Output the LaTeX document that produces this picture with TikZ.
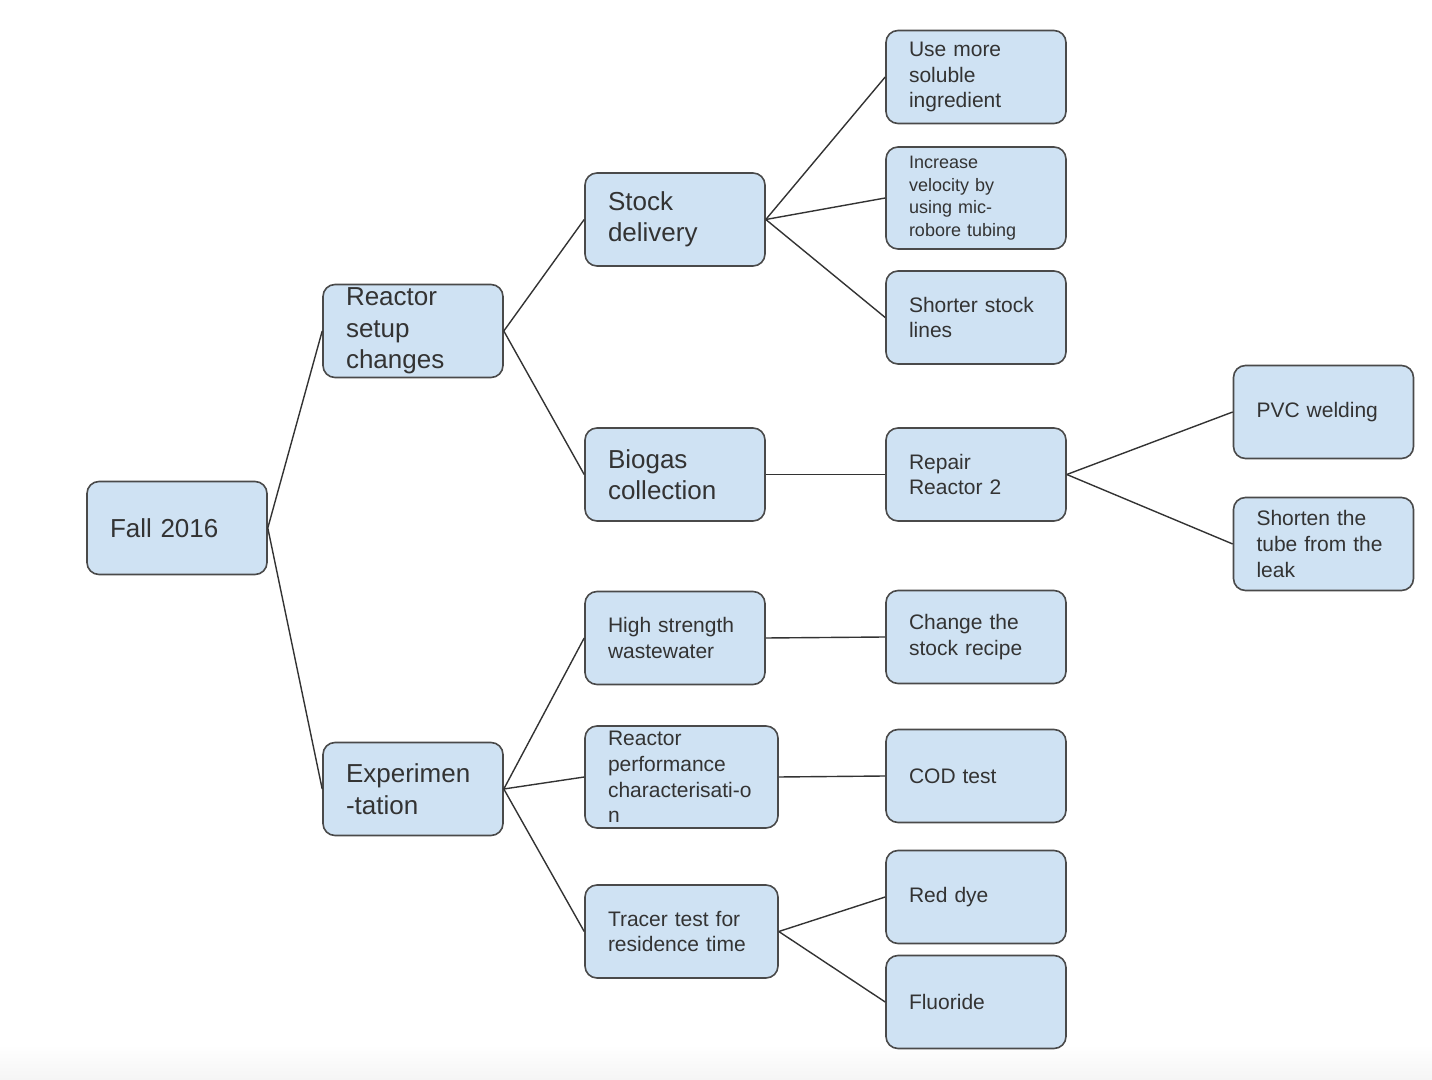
\documentclass[tikz,border=0pt]{standalone}
\usepackage{fontspec}
\setmainfont{Liberation Sans}
\definecolor{boxblue}{HTML}{CFE2F3}
\definecolor{boxline}{HTML}{4A4A4A}
\definecolor{inktext}{HTML}{333333}

\begin{document}
\begin{tikzpicture}[x = 0.5pt, y = -0.5pt]
\tikzstyle{BoxStyle}=[
shape = rectangle,
rounded corners = 6pt,
minimum width = 90pt,
minimum height = 46.5pt,
text width = 67pt,
inner xsep = 11.5pt,
inner ysep = 1pt,
align = left,
fill = boxblue,
draw = boxline,
line width = 0.8pt,
text = inktext]
\tikzstyle{WideBox}=[BoxStyle, text width = 73.5pt, minimum height = 51pt]
\tikzstyle{BigText}=[font = \fontsize{13}{15.75}\selectfont]
\tikzstyle{MidText}=[font = \fontsize{10.5}{12.8}\selectfont]
\tikzstyle{SmallText}=[font = \fontsize{9}{11.25}\selectfont]
\tikzstyle{EdgeStyle}=[draw = inktext, line width = 0.7pt]
\useasboundingbox (0,0) rectangle (1432,1080);
\shade[top color = white, bottom color = black!4] (0,1045) rectangle (1432,1080);
% root and first level
\node[BoxStyle, BigText] (fall) at (177,528) {Fall 2016};
\node[BoxStyle, BigText] (setup) at (413,331) {Reactor\\setup\\changes};
\node[BoxStyle, BigText] (exper) at (413,789) {Experimen\\-tation};
% second level
\node[BoxStyle, BigText] (stock) at (675,219.5) {Stock\\delivery};
\node[BoxStyle, BigText] (biogas) at (675,474.5) {Biogas\\collection};
\node[BoxStyle, MidText] (strength) at (675,638) {High strength\\wastewater};
\node[WideBox, MidText] (perf) at (681.5,777) {Reactor\\performance\\characterisati-o\\n};
\node[BoxStyle, MidText, text width = 73.5pt] (tracer) at (681.5,931.5) {Tracer test for\\residence time};
% third level
\node[BoxStyle, MidText] (soluble) at (976,77) {Use more\\soluble\\ingredient};
\node[BoxStyle, SmallText, minimum height = 51pt] (velocity) at (976,198) {Increase\\velocity by\\using mic-\\robore tubing};
\node[BoxStyle, MidText] (lines) at (976,317.5) {Shorter stock\\lines};
\node[BoxStyle, MidText] (repair) at (976,474.5) {Repair\\Reactor 2};
\node[BoxStyle, MidText] (recipe) at (976,637) {Change the\\stock recipe};
\node[BoxStyle, MidText] (cod) at (976,776) {COD test};
\node[BoxStyle, MidText] (dye) at (976,897) {Red dye};
\node[BoxStyle, MidText] (fluoride) at (976,1002) {Fluoride};
% fourth level
\node[BoxStyle, MidText] (pvc) at (1323.5,412) {PVC welding};
\node[BoxStyle, MidText] (tube) at (1323.5,544) {Shorten the\\tube from the\\leak};
% connectors
\draw[EdgeStyle] (fall.east) -- (setup.west);
\draw[EdgeStyle] (fall.east) -- (exper.west);
\draw[EdgeStyle] (setup.east) -- (stock.west);
\draw[EdgeStyle] (setup.east) -- (biogas.west);
\draw[EdgeStyle] (exper.east) -- (strength.west);
\draw[EdgeStyle] (exper.east) -- (perf.west);
\draw[EdgeStyle] (exper.east) -- (tracer.west);
\draw[EdgeStyle] (stock.east) -- (soluble.west);
\draw[EdgeStyle] (stock.east) -- (velocity.west);
\draw[EdgeStyle] (stock.east) -- (lines.west);
\draw[EdgeStyle] (biogas.east) -- (repair.west);
\draw[EdgeStyle] (strength.east) -- (recipe.west);
\draw[EdgeStyle] (perf.east) -- (cod.west);
\draw[EdgeStyle] (tracer.east) -- (dye.west);
\draw[EdgeStyle] (tracer.east) -- (fluoride.west);
\draw[EdgeStyle] (repair.east) -- (pvc.west);
\draw[EdgeStyle] (repair.east) -- (tube.west);
\end{tikzpicture}
\end{document}
